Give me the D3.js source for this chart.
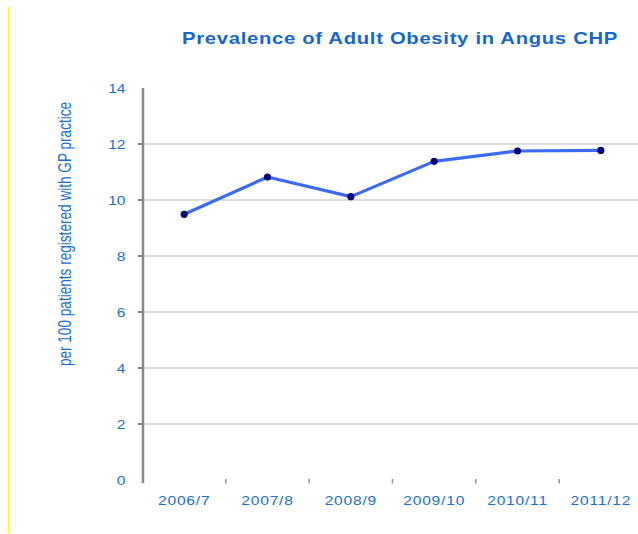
<!DOCTYPE html>
<html>
<head>
<meta charset="utf-8">
<script src="https://cdn.jsdelivr.net/npm/d3@7"></script>
<style>
  html, body { margin: 0; padding: 0; background: #fff; }
  svg { display: block; }
  text { font-family: "Liberation Sans", Arial, sans-serif; }
</style>
</head>
<body>
<script>
// Prevalence of adult obesity (per 100 registered patients), Angus CHP
const years = ["2006/7", "2007/8", "2008/9", "2009/10", "2010/11", "2011/12"];
const prevalence = [9.49, 10.82, 10.12, 11.38, 11.75, 11.77];
const yTicks = [0, 2, 4, 6, 8, 10, 12, 14];
const title = "Prevalence of Adult Obesity in Angus CHP";
const yLabel = "per 100 patients registered with GP practice";

const W = 638, H = 534;
const textBlue = "#1b6fd4";
const stretch = 1.3; // text is drawn wide

const svg = d3.select("body").append("svg").attr("width", W).attr("height", H);

// yellow page rule at the left
svg.append("line").attr("x1", 8.5).attr("x2", 8.5).attr("y1", 7).attr("y2", 533)
  .attr("stroke", "#ffff00").attr("stroke-width", 1.5);

const x = d3.scaleBand().domain(years).range([142.5, 642.5]);
const y = d3.scaleLinear().domain([0, 14]).range([480, 88]);

// horizontal gridlines
svg.append("g").selectAll("line").data(yTicks.filter(t => t > 0 && t < 14)).join("line")
  .attr("x1", 143).attr("x2", W).attr("y1", d => y(d)).attr("y2", d => y(d))
  .attr("stroke", "#bdbdbd").attr("stroke-width", 1.2);

// y tick marks
svg.append("g").selectAll("line").data(yTicks.filter(t => t > 0 && t < 14)).join("line")
  .attr("x1", 137.5).attr("x2", 142).attr("y1", d => y(d)).attr("y2", d => y(d))
  .attr("stroke", "#111").attr("stroke-width", 1);

// y axis line
svg.append("line").attr("x1", 143).attr("x2", 143).attr("y1", y(14)).attr("y2", y(0) + 3)
  .attr("stroke", "#8a8a8a").attr("stroke-width", 2.5);

// x tick marks at category boundaries
svg.append("g").selectAll("line").data(years.slice(1)).join("line")
  .attr("x1", d => x(d)).attr("x2", d => x(d)).attr("y1", y(0) - 1).attr("y2", y(0) + 3.5)
  .attr("stroke", "#999").attr("stroke-width", 1.6);

// y tick labels
svg.append("g").selectAll("text").data(yTicks).join("text")
  .attr("transform", d => `translate(125.5,${y(d) + 4.5}) scale(${1.2},1)`)
  .attr("text-anchor", "end").attr("font-size", 13).attr("fill", textBlue)
  .text(d => d);

// x tick labels
svg.append("g").selectAll("text").data(years).join("text")
  .attr("transform", d => `translate(${x(d) + x.bandwidth() / 2},505) scale(${stretch},1)`)
  .attr("text-anchor", "middle").attr("font-size", 12).attr("letter-spacing", 0.6)
  .attr("fill", textBlue)
  .text(d => d);

// y axis title
svg.append("text")
  .attr("transform", `translate(71,234) scale(${stretch},1) rotate(-90)`)
  .attr("text-anchor", "middle").attr("font-size", 13.6).attr("fill", textBlue)
  .text(yLabel);

// chart title
svg.append("text")
  .attr("transform", `translate(400,44) scale(1.19,1)`)
  .attr("text-anchor", "middle").attr("font-size", 17).attr("font-weight", "bold")
  .attr("letter-spacing", 0.6).attr("fill", "#1466d0")
  .text(title);

// series line
const pts = years.map((d, i) => [x(d) + x.bandwidth() / 2, y(prevalence[i])]);
svg.append("path").datum(pts)
  .attr("d", d3.line())
  .attr("fill", "none").attr("stroke", "#3a6af6").attr("stroke-width", 3.2)
  .attr("stroke-linejoin", "round");

// markers
svg.append("g").selectAll("circle").data(pts).join("circle")
  .attr("cx", d => d[0]).attr("cy", d => d[1]).attr("r", 3.6)
  .attr("fill", "#06067a");
</script>
</body>
</html>
